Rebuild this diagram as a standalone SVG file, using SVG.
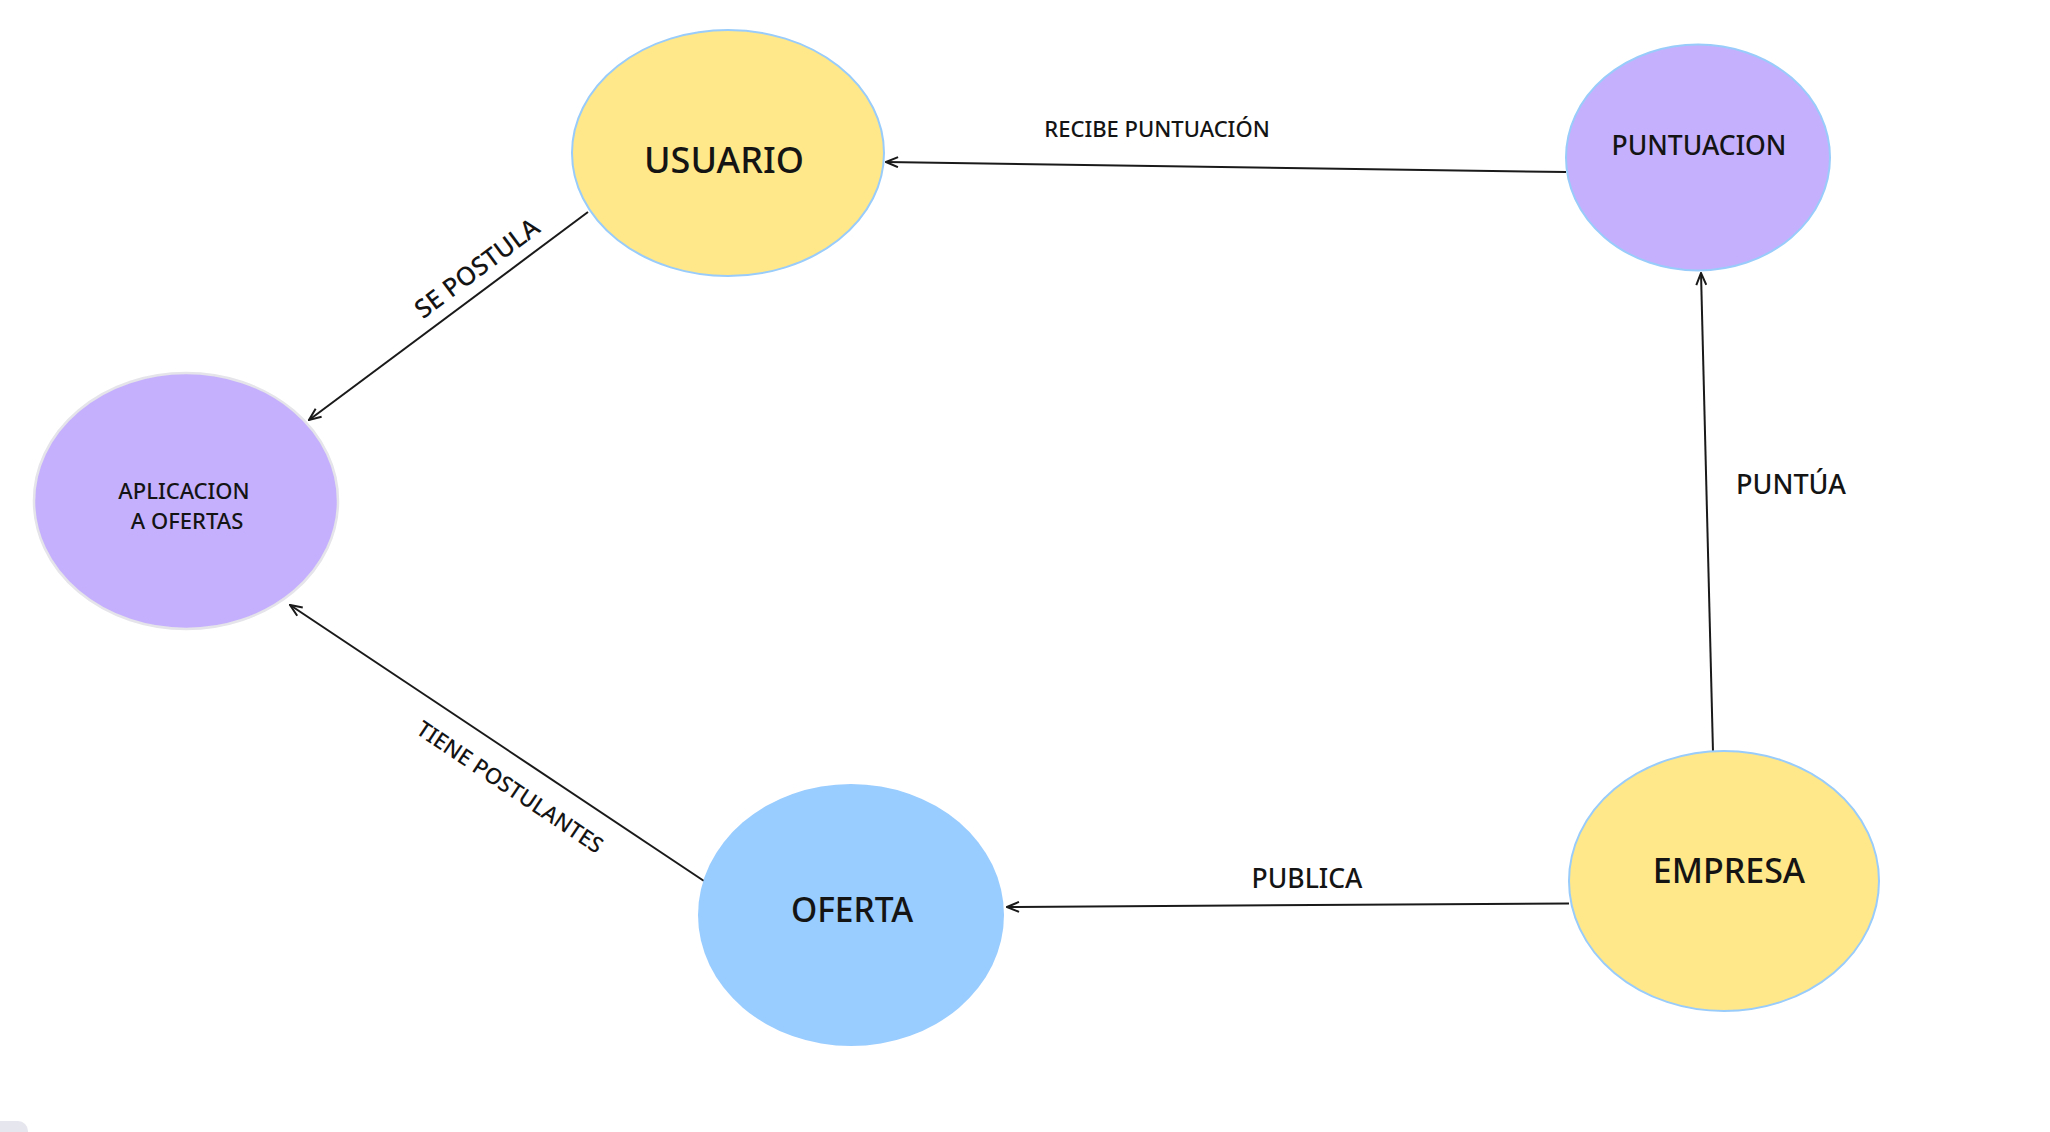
<svg xmlns="http://www.w3.org/2000/svg" width="2050" height="1132" viewBox="0 0 2050 1132">
<style>
.t{font-family:"Noto Sans","Open Sans","DejaVu Sans",sans-serif;fill:#141414;text-anchor:middle;font-weight:500}
.c{stroke:#1a1a1a;stroke-width:2;fill:none}
.y{fill:#FFE88A;stroke:#99CCFA;stroke-width:2}
.p{fill:#C5B0FD;stroke:#99CCFA;stroke-width:2}
</style>
<defs>
<marker id="a" viewBox="0 0 14 12" refX="13" refY="6" markerWidth="14" markerHeight="12" markerUnits="userSpaceOnUse" orient="auto">
<path d="M1,1 L13,6 L1,11" fill="none" stroke="#1a1a1a" stroke-width="2"/>
</marker>
</defs>
<rect width="2050" height="1132" fill="#ffffff"/>
<rect x="-12" y="1121" width="40" height="30" rx="10" fill="#E6E6EE"/>
<g id="connectors">
<line class="c" x1="1566" y1="172" x2="886" y2="162" marker-end="url(#a)"/>
<line class="c" x1="588" y1="212" x2="309" y2="420" marker-end="url(#a)"/>
<line class="c" x1="704" y1="881" x2="290" y2="605" marker-end="url(#a)"/>
<line class="c" x1="1713" y1="752" x2="1701" y2="273" marker-end="url(#a)"/>
<line class="c" x1="1569" y1="903.5" x2="1007" y2="907" marker-end="url(#a)"/>
<text class="t" x="1157" y="137" font-size="22">RECIBE PUNTUACIÓN</text>
<text class="t" font-size="25.5" transform="translate(477,268) rotate(-36.7)" y="9">SE POSTULA</text>
<text class="t" font-size="22" transform="translate(510,787) rotate(33.7)" y="7.8">TIENE POSTULANTES</text>
<text class="t" x="1791" y="494" font-size="27">PUNTÚA</text>
<text class="t" x="1307" y="888" font-size="26.5">PUBLICA</text>
</g>
<g id="usuario">
<ellipse class="y" cx="728" cy="153" rx="156" ry="123"/>
<text class="t" x="724" y="172.5" font-size="36">USUARIO</text>
</g>
<g id="puntuacion">
<ellipse class="p" cx="1698" cy="157.5" rx="132" ry="113"/>
<text class="t" x="1699" y="154.5" font-size="26.5">PUNTUACION</text>
</g>
<g id="aplicacion">
<ellipse cx="186" cy="501" rx="152" ry="128" fill="#C5B0FD" stroke="#E4E4EA" stroke-width="2.5"/>
<text class="t" x="184" y="499" font-size="22">APLICACION</text>
<text class="t" x="187" y="529" font-size="22">A OFERTAS</text>
</g>
<g id="oferta">
<ellipse cx="851" cy="915" rx="153" ry="131" fill="#99CCFF"/>
<text class="t" x="852" y="921.5" font-size="33.5">OFERTA</text>
</g>
<g id="empresa">
<ellipse class="y" cx="1724" cy="881" rx="155" ry="130"/>
<text class="t" x="1729" y="882.5" font-size="34">EMPRESA</text>
</g>
</svg>
